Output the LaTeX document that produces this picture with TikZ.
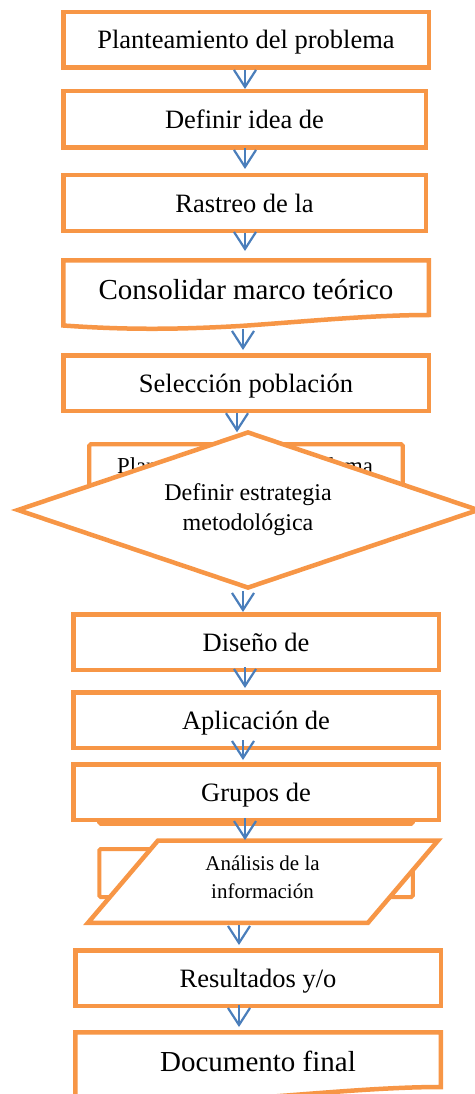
\documentclass[tikz,border=0pt]{standalone}
\usepackage{fontspec}
\setmainfont{Liberation Serif}
\usetikzlibrary{arrows.meta,shapes.geometric}
\definecolor{flowor}{HTML}{F79646}
\definecolor{flowbl}{HTML}{4A7EBB}
\begin{document}
\begin{tikzpicture}[x=1pt,y=-1pt,
  box/.style={draw=flowor, line width=4.5pt, fill=white, rectangle, inner sep=0pt,
    minimum width=365.5pt, minimum height=55.5pt,
    font=\fontsize{26.5}{30}\selectfont, text height=18pt, text depth=0pt},
  hidbox/.style={draw=flowor, line width=4.2pt, fill=white, rounded corners=1.5pt,
    inner sep=0pt, minimum width=313.5pt},
  docbox/.style={inner sep=0pt, outer sep=0pt, minimum width=370pt, minimum height=71pt,
    font=\fontsize{29}{33}\selectfont, text depth=0pt},
  outline/.style={draw=flowor, line width=4.5pt, fill=white, line join=miter},
  arr/.style={draw=flowbl, line width=2.2pt, -{Straight Barb[length=17pt,width=22pt]}},
]
\useasboundingbox (0,0) rectangle (474,1094);

\node[box] (b1) at (246,40) {Planteamiento del problema};
\node[box, minimum width=362.5pt, minimum height=56.5pt] (b2) at (244.5,119.5) {Definir idea de};
\node[box, minimum width=362.5pt] (b3) at (244.5,203) {Rastreo de la};

\draw[outline] (63.25,260.25) -- (428.75,260.25) -- (428.75,315)
  .. controls (370,315) and (300,322) .. (240,326)
  .. controls (170,330) and (120,329.5) .. (63.25,325.5) -- cycle;
\node[docbox, text height=11pt] (b4) at (246,293.5) {Consolidar marco teórico};

\node[box] (b5) at (246,383) {Selección población};

\node[hidbox, minimum height=53.5pt] (hb1) at (246,471) {};
\node[font=\fontsize{22.8}{26}\selectfont, anchor=base] (hb1t) at (245,473) {Planteamiento del problema};

\node[diamond, draw=flowor, line width=4.5pt, fill=white, minimum width=462pt,
  minimum height=157pt, inner sep=0pt, aspect=2.9, align=center,
  font=\fontsize{24}{30}\selectfont] (d) at (248,510) {Definir estrategia\\metodológica};

\node[box] (b6) at (256,642) {Diseño de};
\node[box] (b7) at (256,720) {Aplicación de};
\node[hidbox, minimum height=51.5pt] (hb2) at (256,798) {};
\node[box] (b8) at (256,792) {Grupos de};

\node[hidbox, line width=4pt, minimum height=48pt] (hb3) at (256,873) {};
\draw[outline] (158,840.5) -- (438,840.5) -- (368,922.75) -- (88,922.75) -- cycle;
\node[inner sep=0pt, outer sep=0pt, minimum width=280pt, minimum height=87pt] (p) at (263,881.6) {};
\node[font=\fontsize{21}{28}\selectfont, align=center] (pt) at (262.5,877) {Análisis de la\\información};

\node[box] (b9) at (258,978) {Resultados y/o};

\draw[outline] (75.25,1032.25) -- (440.75,1032.25) -- (440.75,1087)
  .. controls (382,1087) and (312,1094) .. (252,1098)
  .. controls (182,1102) and (132,1101.5) .. (75.25,1097.5) -- cycle;
\node[docbox, text height=12pt] (b10) at (258,1065.5) {Documento final};

\draw[arr] ([xshift=-1pt]b1.south) -- ([xshift=0.5pt]b2.north);
\draw[arr, shorten <=-2pt, shorten >=4pt] ([xshift=0.5pt]b2.south) -- ([xshift=0.5pt]b3.north);
\draw[arr, shorten >=7pt] ([xshift=0.5pt]b3.south) -- ([xshift=-1pt]b4.north);
\draw[arr, shorten >=3pt] ([xshift=-3pt]b4.south) -- ([xshift=-3pt]b5.north);
\draw[arr, shorten >=-3pt] ([xshift=-9pt]b5.south) -- ([xshift=-11pt]d.north);
\draw[arr] ([xshift=-5pt]d.south) -- ([xshift=-13pt]b6.north);
\draw[arr, shorten <=-5pt, shorten >=2pt] ([xshift=-11pt]b6.south) -- ([xshift=-11pt]b7.north);
\draw[arr, shorten <=-10pt, shorten >=2pt] ([xshift=-13pt]b7.south) -- ([xshift=-13pt]b8.north);
\draw[arr, shorten <=-4pt, shorten >=-2pt] ([xshift=-11pt]b8.south) -- ([xshift=-18pt]p.north);
\draw[arr, shorten >=3pt] ([xshift=-24pt]p.south) -- ([xshift=-19pt]b9.north);
\draw[arr, shorten <=-3pt, shorten >=3pt] ([xshift=-19pt]b9.south) -- ([xshift=-19pt]b10.north);
\end{tikzpicture}
\end{document}
